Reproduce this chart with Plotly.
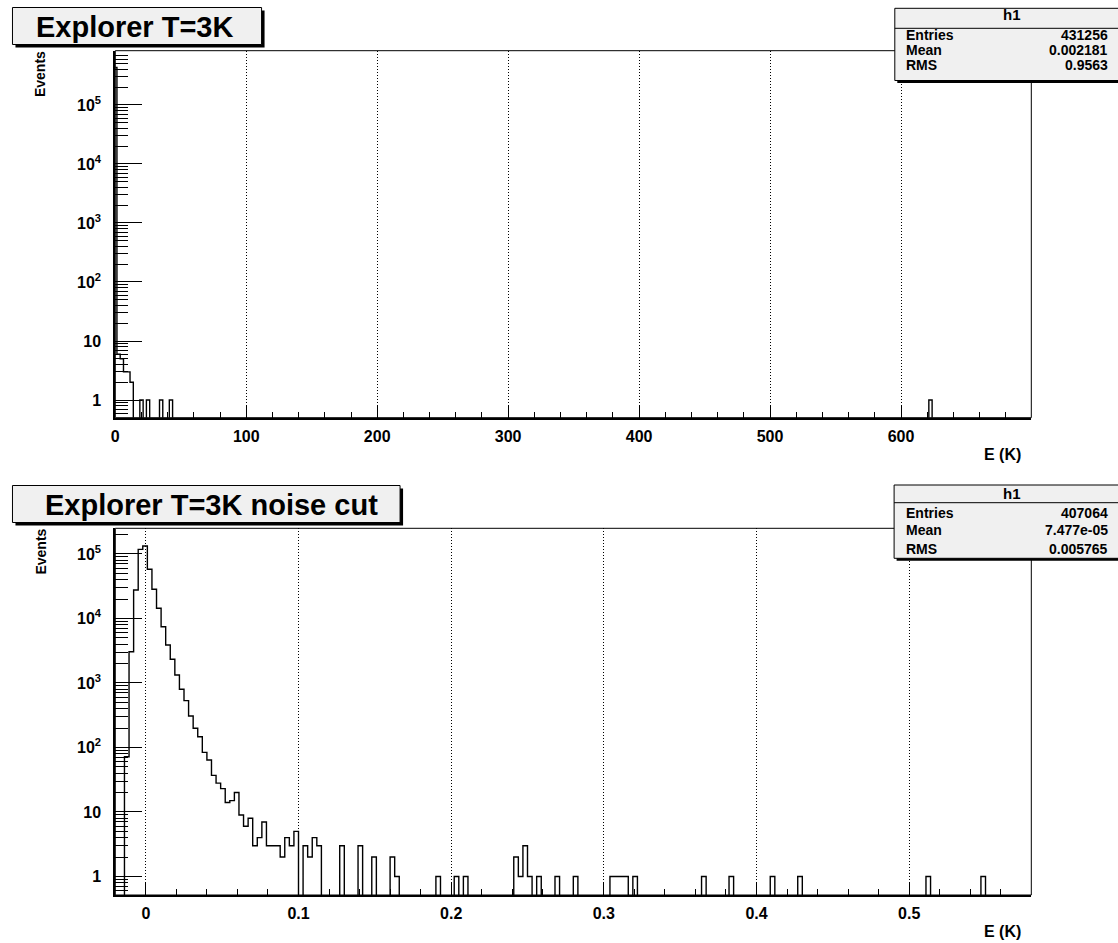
import numpy as np
import plotly.graph_objects as go

W, H = 1118, 943
FONT = "Liberation Sans, Arial, Helvetica, sans-serif"

# ---------------- data ----------------
# top histogram: E (K), bin width 2.5 (bins centred on multiples of 2.5)
top_bin_width = 2.5
top_nbins = 281
top_centers = [0, 2.5, 5, 7.5, 10, 12.5, 20, 25, 35, 42.5, 622.5]
top_counts = [431232, 6, 5, 3, 3, 2, 1, 1, 1, 1, 1]
top_xticks = [0, 100, 200, 300, 400, 500, 600]
top_xticklabels = ["0", "100", "200", "300", "400", "500", "600"]

# bottom histogram: noise cut, 200 bins of 0.003 from -0.02
bot_lo = -0.02
bot_bin_width = 0.003
bot_nbins = 200
bot_centers = [-0.0125, -0.0095, -0.0065, -0.0035, -0.0005, 0.0025, 0.0055, 0.0085,
               0.0115, 0.0145, 0.0175, 0.0205, 0.0235, 0.0265, 0.0295, 0.0325,
               0.0355, 0.0385, 0.0415, 0.0445, 0.0475, 0.0505, 0.0535, 0.0565,
               0.0595, 0.0625, 0.0655, 0.0685, 0.0715, 0.0745, 0.0775, 0.0805,
               0.0835, 0.0865, 0.0895, 0.0925, 0.0955, 0.0985, 0.1045, 0.1075,
               0.1105, 0.1135, 0.1285, 0.1405, 0.1495, 0.1615, 0.1645, 0.1915,
               0.2035, 0.2095, 0.2425, 0.2455, 0.2485, 0.2515, 0.2575, 0.2695,
               0.2815, 0.3055, 0.3085, 0.3115, 0.3145, 0.3205, 0.3655, 0.3835,
               0.4105, 0.4285, 0.5125, 0.5485]
bot_counts = [72, 3055, 27700, 118000, 133000, 57900, 28400, 14400,
              7460, 3880, 2330, 1330, 798, 532, 308, 199,
              147, 84, 64, 37, 28, 23, 14, 15,
              20, 9, 6, 8, 3, 4, 7, 3,
              3, 3, 2, 4, 3, 5, 3, 2,
              4, 3, 3, 3, 2, 2, 1, 1,
              1, 1, 2, 1, 3, 1, 1, 1,
              1, 1, 1, 1, 1, 1, 1, 1,
              1, 1, 1, 1]
bot_xticks = [0, 0.1, 0.2, 0.3, 0.4, 0.5]
bot_xticklabels = ["0", "0.1", "0.2", "0.3", "0.4", "0.5"]

y_major = [1, 10, 100, 1e3, 1e4, 1e5]
y_major_labels = ["1", "10", "10<sup>2</sup>", "10<sup>3</sup>", "10<sup>4</sup>", "10<sup>5</sup>"]

stats_top = [("Entries", "431256"), ("Mean", "0.002181"), ("RMS", "0.9563")]
stats_bot = [("Entries", "407064"), ("Mean", "7.477e-05"), ("RMS", "0.005765")]
title_top = "Explorer T=3K"
title_bot = "Explorer T=3K noise cut"


def step_arrays(lo, width, nbins, centers, counts, floor=1e-3):
    full = np.zeros(nbins)
    for c, n in zip(centers, counts):
        idx = int(round((c - lo) / width - 0.5))
        full[idx] += n
    edges = lo + width * np.arange(nbins + 1)
    yv = np.where(full > 0, full, floor)
    yv = np.append(yv, yv[-1])
    return edges, yv


tx, ty = step_arrays(-top_bin_width / 2, top_bin_width, top_nbins, top_centers, top_counts)
bx, by = step_arrays(bot_lo, bot_bin_width, bot_nbins, bot_centers, bot_counts)


def minor_log(lo_exp, hi_exp):
    vals = []
    for e in range(lo_exp, hi_exp + 1):
        for m in range(2, 10):
            vals.append(m * 10.0 ** e)
    return vals


def px(x):
    return x / W


def py(y):
    return 1 - y / H


fig = go.Figure()
fig.add_trace(go.Scatter(x=tx, y=ty, mode="lines", line=dict(shape="hv", color="black", width=1.4),
                         xaxis="x", yaxis="y", showlegend=False, hoverinfo="skip"))
fig.add_trace(go.Scatter(x=bx, y=by, mode="lines", line=dict(shape="hv", color="black", width=1.4),
                         xaxis="x2", yaxis="y2", showlegend=False, hoverinfo="skip"))

tickfont = dict(family=FONT, size=16, color="black")
common_x = dict(ticks="inside", ticklen=12, tickwidth=1, tickcolor="black",
                showgrid=True, griddash="1px,2px", gridcolor="black", gridwidth=1,
                showline=True, linewidth=2, linecolor="black", zeroline=False,
                tickfont=tickfont, tickmode="array", ticklabelstandoff=3)
common_y = dict(type="log", ticks="inside", ticklen=27, tickwidth=1, tickcolor="black",
                showgrid=False, showline=True, linewidth=2, linecolor="black", zeroline=False,
                tickfont=tickfont, tickmode="array", tickvals=y_major,
                ticktext=["<b>%s</b>" % t for t in y_major_labels], ticklabelstandoff=9)

xdom = [px(111.7), px(1031)]
fig.update_layout(
    width=W, height=H, margin=dict(l=0, r=0, t=0, b=0),
    paper_bgcolor="white", plot_bgcolor="white", showlegend=False,
    xaxis=dict(domain=xdom, range=[0, 699.5], anchor="y",
               tickvals=top_xticks, ticktext=["<b>%s</b>" % t for t in top_xticklabels],
               minor=dict(ticks="inside", ticklen=6, tickwidth=1, tickcolor="black",
                          dtick=20, tick0=0, showgrid=False),
               **common_x),
    yaxis=dict(domain=[py(417.7), py(50.7)], range=[-0.30, 5.92], anchor="x",
               minor=dict(ticks="inside", ticklen=13, tickwidth=1, tickcolor="black",
                          tickmode="array", tickvals=minor_log(-1, 5), showgrid=False),
               **common_y),
    xaxis2=dict(domain=xdom, range=[-0.02, 0.58], anchor="y2",
                tickvals=bot_xticks, ticktext=["<b>%s</b>" % t for t in bot_xticklabels],
                minor=dict(ticks="inside", ticklen=6, tickwidth=1, tickcolor="black",
                           dtick=0.02, tick0=0, showgrid=False),
                **common_x),
    yaxis2=dict(domain=[py(895), py(528.3)], range=[-0.287, 5.398], anchor="x2",
                minor=dict(ticks="inside", ticklen=13, tickwidth=1, tickcolor="black",
                           tickmode="array", tickvals=minor_log(-1, 5), showgrid=False),
                **common_y),
)

shapes = []
# frame (thin top/right)
for xr, yr in (("x domain", "y domain"), ("x2 domain", "y2 domain")):
    shapes.append(dict(type="rect", xref=xr, yref=yr, x0=0, x1=1, y0=0, y1=1,
                       line=dict(color="black", width=1), layer="above"))


def box(x0, y0, x1, y1, sx=3, sy=3, fill="#f0f0f0"):
    out = []
    out.append(dict(type="rect", xref="paper", yref="paper",
                    x0=px(x0 + sx), x1=px(x1 + sx), y0=py(y1 + sy), y1=py(y0 + sy),
                    fillcolor="black", line=dict(width=0), layer="above"))
    out.append(dict(type="rect", xref="paper", yref="paper",
                    x0=px(x0), x1=px(x1), y0=py(y1), y1=py(y0),
                    fillcolor=fill, line=dict(color="black", width=1), layer="above"))
    return out


shapes += box(8.5, 7.5, 258.5, 44.5)
shapes += box(8.5, 485.5, 397.5, 522.5)
shapes += box(894, 8.3, 1130, 80.5, sx=2.5, sy=2.5)
shapes += box(893.3, 485, 1130, 558.3, sx=2.5, sy=2.5)
for ysep, x0 in ((28.3, 894), (502.7, 893.3)):
    shapes.append(dict(type="line", xref="paper", yref="paper", x0=px(x0), x1=px(1118),
                       y0=py(ysep), y1=py(ysep), line=dict(color="black", width=1), layer="above"))
fig.update_layout(shapes=shapes)

ann = []


def text(x, y, s, size, xanchor="center", angle=0):
    ann.append(dict(x=px(x), y=py(y), xref="paper", yref="paper", text="<b>%s</b>" % s,
                    showarrow=False, xanchor=xanchor, yanchor="middle", textangle=angle,
                    font=dict(family=FONT, size=size, color="black")))


text(131, 26.5, title_top, 29)
text(208, 504.5, title_bot, 29)
text(1011.7, 15, "h1", 15)
text(1011.7, 493, "h1", 15)
for (lab, val), yy in zip(stats_top, (35, 50, 64.5)):
    text(903, yy, lab, 14, xanchor="left")
    text(1110, yy, val, 14, xanchor="right")
for (lab, val), yy in zip(stats_bot, (512.5, 530.3, 549)):
    text(903, yy, lab, 14, xanchor="left")
    text(1110, yy, val, 14, xanchor="right")
text(36.7, 74.5, "Events", 14, angle=-90)
text(36.7, 552, "Events", 14, angle=-90)
text(1023, 454.5, "E (K)", 16, xanchor="right")
text(1023, 931, "E (K)", 16, xanchor="right")
fig.update_layout(annotations=ann)

fig.write_html("out.html")
